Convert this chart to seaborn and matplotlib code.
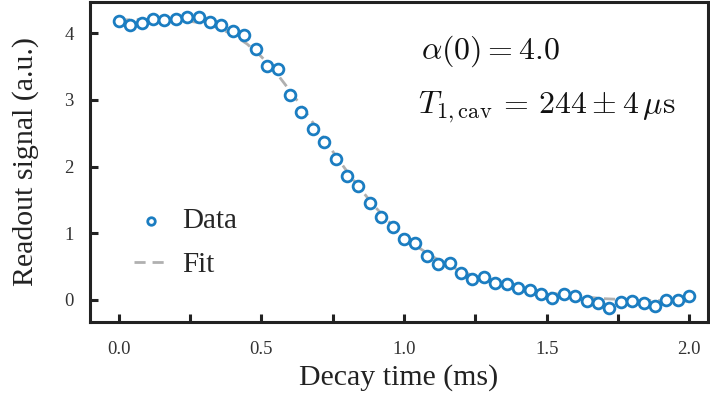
import numpy as np
import pandas as pd
import matplotlib
matplotlib.use("Agg")
import matplotlib.pyplot as plt
import seaborn as sns
from matplotlib.ticker import MultipleLocator

sns.set_theme(style="ticks")
plt.rcParams['font.family'] = ['Liberation Serif', 'DejaVu Serif']
plt.rcParams['mathtext.fontset'] = 'cm'

# Measured data (decay time in ms, readout signal in a.u.)
t_data = [0.00, 0.04, 0.08, 0.12, 0.16, 0.20, 0.24, 0.28, 0.32, 0.36,
          0.40, 0.44, 0.48, 0.52, 0.56, 0.60, 0.64, 0.68, 0.72, 0.76,
          0.80, 0.84, 0.88, 0.92, 0.96, 1.00, 1.04, 1.08, 1.12, 1.16,
          1.20, 1.24, 1.28, 1.32, 1.36, 1.40, 1.44, 1.48, 1.52, 1.56,
          1.60, 1.64, 1.68, 1.72, 1.76, 1.80, 1.84, 1.88, 1.92, 1.96, 2.00]
signal = [4.19, 4.13, 4.15, 4.21, 4.20, 4.22, 4.25, 4.25, 4.17, 4.12,
          4.03, 3.97, 3.77, 3.51, 3.46, 3.08, 2.82, 2.56, 2.37, 2.12,
          1.86, 1.71, 1.45, 1.24, 1.09, 0.91, 0.86, 0.66, 0.54, 0.55,
          0.40, 0.31, 0.34, 0.25, 0.24, 0.18, 0.15, 0.085, 0.035, 0.085,
          0.065, -0.01, -0.05, -0.115, -0.035, -0.02, -0.04, -0.085, -0.005, -0.005, 0.06]

# Fit curve
t_fit = [0.00, 0.10, 0.20, 0.30, 0.35, 0.40, 0.45, 0.50, 0.55, 0.60,
         0.65, 0.70, 0.75, 0.80, 0.85, 0.90, 0.95, 1.00, 1.05, 1.10,
         1.20, 1.30, 1.40, 1.50, 1.60, 1.70, 1.80, 1.90, 2.00]
fit = [4.20, 4.21, 4.21, 4.15, 4.08, 3.98, 3.84, 3.65, 3.42, 3.14,
       2.85, 2.54, 2.23, 1.93, 1.65, 1.39, 1.16, 0.96, 0.79, 0.65,
       0.43, 0.28, 0.18, 0.11, 0.06, 0.02, 0.00, -0.01, -0.02]

x_ticks = [0.0, 0.5, 1.0, 1.5, 2.0]
y_ticks = [0, 1, 2, 3, 4]

df_data = pd.DataFrame({"t": t_data, "s": signal})
df_fit = pd.DataFrame({"t": t_fit, "s": fit})

fig = plt.figure(figsize=(7.1, 4.0), dpi=100)
ax = fig.add_axes([0.127, 0.195, 0.870, 0.800])

sns.lineplot(data=df_fit, x="t", y="s", ax=ax, color="#b0b0b0", lw=2.0,
             linestyle=(0, (4, 2.5)), label="Fit", zorder=1)
sns.scatterplot(data=df_data, x="t", y="s", ax=ax, marker="o", s=60,
                facecolor="white", edgecolor="#1b7dc1", linewidth=2.0,
                label="Data", zorder=3)

ax.set_xlim(-0.10, 2.065)
ax.set_ylim(-0.33, 4.47)
ax.set_xticks(x_ticks)
ax.set_xticklabels([f"{v:.1f}" for v in x_ticks])
ax.xaxis.set_minor_locator(MultipleLocator(0.25))
ax.set_yticks(y_ticks)
ax.set_yticklabels([str(v) for v in y_ticks])

for side in ["left", "bottom", "top", "right"]:
    ax.spines[side].set_linewidth(2.2)
    ax.spines[side].set_color("#222222")
ax.tick_params(which="both", direction="in", length=6, width=2.2,
               color="#222222", labelsize=13.5, labelcolor="#333333")
ax.tick_params(axis="x", which="both", pad=14)
ax.tick_params(axis="y", which="both", pad=12)
ax.tick_params(which="both", top=False, right=False)

ax.set_xlabel("Decay time (ms)", fontsize=21.5, color="#222222", labelpad=4)
ax.set_ylabel("Readout signal (a.u.)", fontsize=21.5, color="#222222", labelpad=18)

ax.text(0.536, 0.845, r"$\alpha(0) = 4.0$", transform=ax.transAxes,
        fontsize=23, ha="left", va="center", color="#111111")
ax.text(0.531, 0.670, r"$T_{1,\mathrm{cav}}\,=\,244 \pm 4\,\mu\mathrm{s}$", transform=ax.transAxes,
        fontsize=23, ha="left", va="center", color="#111111")

handles, labels = ax.get_legend_handles_labels()
order = [labels.index("Data"), labels.index("Fit")]
ax.legend([handles[i] for i in order], [labels[i] for i in order],
          loc="lower left", bbox_to_anchor=(0.052, 0.10), frameon=False,
          fontsize=21, handlelength=1.2, labelspacing=0.6, borderaxespad=0,
          handletextpad=0.45, markerscale=0.7)

fig.savefig("out.png", dpi=100)
